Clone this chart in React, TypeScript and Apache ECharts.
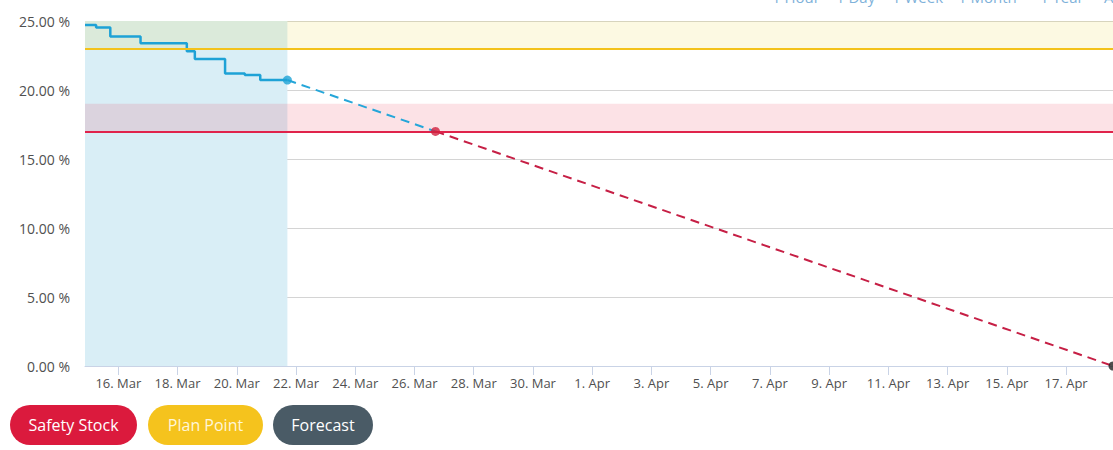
import React, { useEffect, useRef } from "react";
import * as echarts from "echarts";

// ---- data ----
const historyTimes = [
  "2024-03-14T21:00",
  "2024-03-15T06:00",
  "2024-03-15T17:30",
  "2024-03-16T18:00",
  "2024-03-18T07:30",
  "2024-03-18T14:00",
  "2024-03-19T14:30",
  "2024-03-20T06:30",
  "2024-03-20T19:00",
  "2024-03-21T17:00",
];
const historyValues = [24.71, 24.52, 23.87, 23.38, 22.8, 22.25, 21.2, 21.09, 20.72, 20.72];

const forecastBlueTimes = ["2024-03-21T17:00", "2024-03-26T17:00"];
const forecastBlueValues = [20.72, 17.0];
const forecastRedTimes = ["2024-03-26T17:00", "2024-04-18T14:00"];
const forecastRedValues = [17.0, 0];

const tickDates = [
  "2024-03-16T00:00", "2024-03-18T00:00", "2024-03-20T00:00", "2024-03-22T00:00",
  "2024-03-24T00:00", "2024-03-26T00:00", "2024-03-28T00:00", "2024-03-30T00:00",
  "2024-04-01T00:00", "2024-04-03T00:00", "2024-04-05T00:00", "2024-04-07T00:00",
  "2024-04-09T00:00", "2024-04-11T00:00", "2024-04-13T00:00", "2024-04-15T00:00",
  "2024-04-17T00:00",
];
const monthNames = ["Jan", "Feb", "Mar", "Apr", "May", "Jun", "Jul", "Aug", "Sep", "Oct", "Nov", "Dec"];
const axisStart = "2024-03-14T21:00";
const axisEnd = "2024-04-18T14:00";
const yMin = 0;
const yMax = 25;
const yStep = 5;

const planPointBand = [23, 25];
const planPoint = 23;
const safetyBand = [17, 19];
const safetyStock = 17;

const legendButtons = ["Safety Stock", "Plan Point", "Forecast"];
const rangeButtons = ["1 Hour", "1 Day", "1 Week", "1 Month", "1 Year", "All"];

const ts = (s: string) => Date.parse(s + "Z");

export default function App() {
  const ref = useRef<HTMLDivElement>(null);

  useEffect(() => {
    if (!ref.current) return;
    const chart = echarts.init(ref.current, undefined, { renderer: "svg" });
    const font = "'Open Sans', sans-serif";

    const hist = historyTimes.map((t, i) => [ts(t), historyValues[i]]);
    const fBlue = forecastBlueTimes.map((t, i) => [ts(t), forecastBlueValues[i]]);
    const fRed = forecastRedTimes.map((t, i) => [ts(t), forecastRedValues[i]]);
    const ticks = tickDates.map(ts);
    const histEnd = hist[hist.length - 1];

    const btnColors = ["#db1a3d", "#f5c31d", "#4a5b66"];
    const btnText = ["#ffffff", "#fff6d8", "#ffffff"];
    const btnX = [10, 148, 273];
    const btnW = [127, 115, 100];

    const rangeX = [772, 836, 892, 958, 1040, 1104];

    const graphic: any[] = [];
    legendButtons.forEach((name, i) => {
      graphic.push({
        type: "group",
        left: btnX[i],
        top: 405,
        children: [
          {
            type: "rect",
            shape: { x: 0, y: 0, width: btnW[i], height: 40, r: 20 },
            style: { fill: btnColors[i] },
          },
          {
            type: "text",
            x: btnW[i] / 2,
            y: 20,
            style: {
              text: name,
              fill: btnText[i],
              font: `16px ${font}`,
              align: "center",
              verticalAlign: "middle",
            },
          },
        ],
      });
    });
    rangeButtons.forEach((name, i) => {
      graphic.push({
        type: "text",
        x: rangeX[i],
        y: -11,
        style: { text: name, fill: "#7fb2da", font: `15px ${font}` },
      });
    });

    chart.setOption({
      animation: false,
      backgroundColor: "#ffffff",
      grid: { left: 85, right: 0, top: 21, bottom: 84, containLabel: false },
      xAxis: {
        type: "value",
        min: ts(axisStart),
        max: ts(axisEnd),
        axisLine: { show: true, lineStyle: { color: "#c9d3e6", width: 1 } },
        axisTick: {
          show: true,
          length: 9,
          customValues: ticks,
          lineStyle: { color: "#c9d3e6" },
        },
        axisLabel: {
          customValues: ticks,
          color: "#505050",
          fontSize: 13,
          fontFamily: font,
          margin: 10,
          formatter: (v: number) => {
            const d = new Date(v);
            return `${d.getUTCDate()}. ${monthNames[d.getUTCMonth()]}`;
          },
        },
        splitLine: { show: false },
      },
      yAxis: {
        type: "value",
        min: yMin,
        max: yMax,
        interval: yStep,
        axisLine: { show: false },
        axisTick: { show: false },
        axisLabel: {
          color: "#505050",
          fontSize: 14,
          fontFamily: font,
          margin: 15,
          formatter: (v: number) => v.toFixed(2) + " %",
        },
        splitLine: { lineStyle: { color: "#d4d4d4", width: 1 } },
      },
      series: [
        {
          name: "historyArea",
          type: "line",
          data: [],
          z: 1,
          silent: true,
          markArea: {
            silent: true,
            itemStyle: { color: "#d9eef6" },
            data: [[{ xAxis: ts(axisStart) }, { xAxis: histEnd[0] }]],
          },
        },
        {
          name: "bands",
          type: "line",
          data: [],
          z: 2,
          silent: true,
          markArea: {
            silent: true,
            data: [
              [
                { yAxis: planPointBand[0], itemStyle: { color: "rgba(236,214,60,0.15)" } },
                { yAxis: planPointBand[1] },
              ],
              [
                { yAxis: safetyBand[0], itemStyle: { color: "rgba(232,30,64,0.13)" } },
                { yAxis: safetyBand[1] },
              ],
            ],
          },
          markLine: {
            silent: true,
            symbol: "none",
            label: { show: false },
            data: [
              { yAxis: planPoint, lineStyle: { color: "#f3c21a", width: 2, type: "solid" } },
              { yAxis: safetyStock, lineStyle: { color: "#e0234b", width: 2, type: "solid" } },
            ],
          },
        },
        {
          name: "Forecast (above)",
          type: "line",
          data: fBlue,
          z: 3,
          symbol: "none",
          lineStyle: { color: "#25a6d9", width: 2, type: [9, 6] },
        },
        {
          name: "Forecast (below)",
          type: "line",
          data: fRed,
          z: 3,
          symbol: "none",
          lineStyle: { color: "#c61f45", width: 2, type: [9, 6] },
        },
        {
          name: "History",
          type: "line",
          step: "end",
          data: hist,
          z: 4,
          symbol: "none",
          lineStyle: { color: "#1ea2d6", width: 2.5 },
        },
        {
          name: "dots",
          type: "scatter",
          z: 5,
          symbolSize: 9,
          data: [
            { value: histEnd, itemStyle: { color: "#1ea2d6" } },
            { value: fRed[0], itemStyle: { color: "#d0203f" } },
            { value: fRed[fRed.length - 1], itemStyle: { color: "#222222" } },
          ],
        },
      ],
      graphic,
    });

    return () => chart.dispose();
  }, []);

  return (
    <div
      ref={ref}
      style={{ position: "fixed", left: 0, top: 0, width: 1113, height: 450 }}
    />
  );
}
